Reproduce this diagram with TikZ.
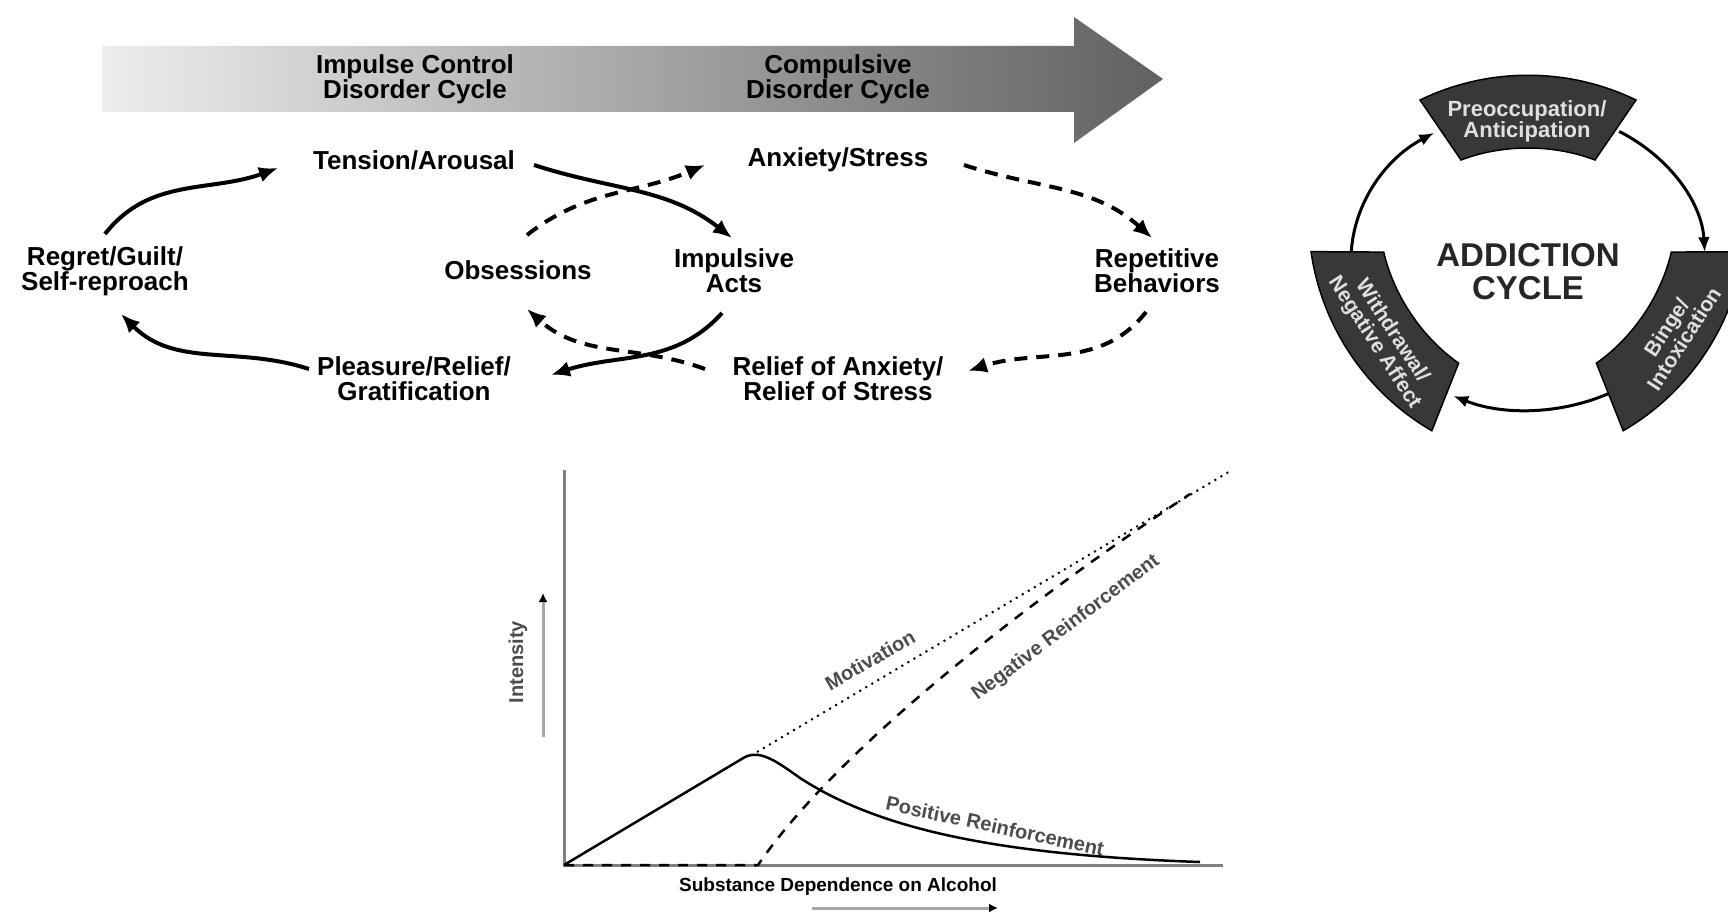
\documentclass[tikz,border=0pt]{standalone}
\usepackage{fontspec}
\setmainfont{Liberation Sans}
\usetikzlibrary{arrows.meta,calc}
\tikzset{
	lbl/.style={font=\bfseries\fontsize{26}{25}\selectfont, align=center, inner sep=0pt},
	small/.style={font=\bfseries\fontsize{20}{20}\selectfont, color=black!70, inner sep=0pt},
	impulsive/.style={line width=4pt, -{Latex[length=19pt,width=16pt]}},
	compulsive/.style={impulsive, dash pattern=on 13pt off 9pt},
	stage/.style={fill=black!78, draw=black, line width=1.5pt},
	stagetext/.style={font=\bfseries\fontsize{21}{21}\selectfont, text=black!12, align=center, inner sep=0pt},
	ring/.style={line width=3pt, -{Latex[length=15pt,width=12pt]}},
	axis/.style={line width=3pt, color=black!50},
	hint/.style={line width=3pt, color=black!35, -{Latex[length=9pt,width=9pt,color=black]}}
}
\def\stagebox(#1)(#2){\draw[stage, shift={(#1)}, rotate=#2] (-108,20) .. controls (-40,53) and (40,53) .. (108,20) -- (67,-40) .. controls (25,-24) and (-25,-24) .. (-67,-40) -- cycle;}

\begin{document}
\begin{tikzpicture}[x=1pt, y=1pt]
			%%%%% START %%%%%
			\useasboundingbox (0,0) rectangle (1728,-912);
			
			\shade[left color=black!7, right color=black!62] (102,-46) -- (1074,-46) -- (1074,-17) -- (1163,-79) -- (1074,-143) -- (1074,-112) -- (102,-112) -- cycle;
			\node[lbl] (icd) at (415,-79) {Impulse Control\\Disorder Cycle};
			\node[lbl] (cdc) at (838,-79) {Compulsive\\Disorder Cycle};
			
			\node[lbl] (ten) at (414,-160) {Tension/Arousal};
			\node[lbl] (anx) at (838,-160) {Anxiety/Stress};
			\node[lbl] (reg) at (105,-271) {Regret/Guilt/\\Self-reproach};
			\node[lbl] (obs) at (518,-270) {Obsessions};
			\node[lbl] (imp) at (734,-271) {Impulsive\\Acts};
			\node[lbl] (rep) at (1157,-271) {Repetitive\\Behaviors};
			\node[lbl] (ple) at (414,-379) {Pleasure/Relief/\\Gratification};
			\node[lbl] (rel) at (838,-379) {Relief of Anxiety/\\Relief of Stress};
			
			\draw[impulsive] ([shift={(0,37)}]reg.center) to[out=52, in=200] ([shift={(-136,-8)}]ten.center);
			\draw[impulsive] ([shift={(120,-5)}]ten.center) to[out=-18, in=142] ([shift={(-2,33)}]imp.center);
			\draw[impulsive] ([shift={(-12,-42)}]imp.center) to[out=-132, in=18] ([shift={(137,4)}]ple.center);
			\draw[impulsive] ([shift={(-105,10)}]ple.center) to[out=162, in=-45] ([shift={(16,-43)}]reg.center);
			
			\draw[compulsive] ([shift={(9,35)}]obs.center) to[out=38, in=203] ([shift={(-133,-5)}]anx.center);
			\draw[compulsive] ([shift={(126,-5)}]anx.center) to[out=-18, in=138] ([shift={(-5,33)}]rep.center);
			\draw[compulsive] ([shift={(-11,-41)}]rep.center) to[out=-128, in=18] ([shift={(130,8)}]rel.center);
			\draw[compulsive] ([shift={(-133,10)}]rel.center) to[out=160, in=-42] ([shift={(9,-39)}]obs.center);
			
			% addiction cycle
			\coordinate (cc) at (1528,-260);
			\draw[ring] ([shift={(180:177 and 150)}]cc) arc[start angle=180, end angle=122, x radius=177, y radius=150];
			\draw[ring] ([shift={(59:177 and 150)}]cc) arc[start angle=59, end angle=3, x radius=177, y radius=150];
			\draw[ring] ([shift={(298:177 and 150)}]cc) arc[start angle=298, end angle=245, x radius=177, y radius=150];
			
			\stagebox(1528,-120)(0)
			\stagebox(1388,-330)(124)
			\stagebox(1667,-330)(-124)
			\node[stagetext, font=\bfseries\fontsize{22}{21}\selectfont] (pre) at (1527,-121) {Preoccupation/\\Anticipation};
			\node[stagetext, rotate=-57] (wit) at (1383,-337) {Withdrawal/\\Negative Affect};
			\node[stagetext, rotate=57] (bin) at (1675,-333) {Binge/\\Intoxication};
			\node[font=\bfseries\fontsize{33}{33}\selectfont, align=center, color=black!85] (add) at (cc |- 0,-272) {ADDICTION\\CYCLE};
			
			% intensity graph
			\coordinate (o) at (564,-865);
			\coordinate (pk) at (757,-752);
			\draw[axis] (564,-470) -- (o) -- (1223,-865);
			\draw[line width=2pt, dash pattern=on 2pt off 5pt] (pk) -- (1232,-470);
			\draw[line width=2.5pt, dash pattern=on 10pt off 9pt] (o) -- (758,-865) .. controls (830,-760) and (1000,-620) .. (1190,-494);
			\draw[line width=2.5pt] (o) -- (745,-757) .. controls (760,-750) and (775,-760) .. (800,-778) .. controls (880,-830) and (1000,-855) .. (1200,-862);
			
			\node[small, rotate=30] (mot) at (870,-660) {Motivation};
			\node[small, rotate=37] (neg) at (1066,-628) {Negative Reinforcement};
			\node[small, rotate=-12] (pos) at (995,-826) {Positive Reinforcement};
			\node[small, rotate=90] (int) at (518,-662) {Intensity};
			\node[small, font=\bfseries\fontsize{19}{19}\selectfont, color=black] (sub) at (838,-887) {Substance Dependence on Alcohol};
			\draw[hint] (543,-737) -- (543,-593);
			\draw[hint] (812,-908) -- (998,-908);
			%%%%% END %%%%%
\end{tikzpicture}
\end{document}
